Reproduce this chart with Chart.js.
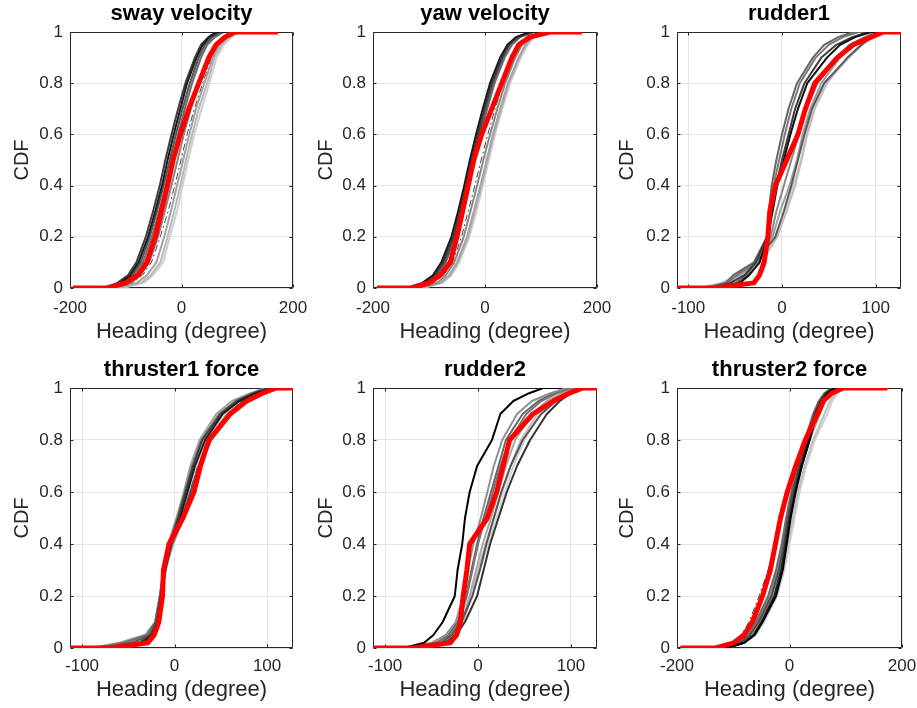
<!DOCTYPE html>
<html>
<head>
<meta charset="utf-8">
<script src="https://cdn.jsdelivr.net/npm/chart.js@4.4.1/dist/chart.umd.min.js"></script>
<style>
  html, body { margin: 0; padding: 0; background: #ffffff; }
  body { width: 917px; height: 708px; position: relative; overflow: hidden; }
  canvas { position: absolute; }
</style>
</head>
<body>
<canvas id="p1"></canvas>
<canvas id="p2"></canvas>
<canvas id="p3"></canvas>
<canvas id="p4"></canvas>
<canvas id="p5"></canvas>
<canvas id="p6"></canvas>
<script>
// ---------------- DATA ----------------
// CDF levels shared by every curve (x values below are headings in degrees at these levels)
const cdfLevels = [0, 0, 0.02, 0.05, 0.1, 0.2, 0.3, 0.4, 0.5, 0.6, 0.7, 0.8, 0.9, 0.95, 0.98, 1, 1];

const panelTitles = ['sway velocity', 'yaw velocity', 'rudder1', 'thruster1 force', 'rudder2', 'thruster2 force'];
const xLimits = [[-200, 200], [-200, 200], [-112, 127], [-113, 128], [-113, 128], [-200, 200]];
const xTicksWide = [-200, 0, 200];
const xTicksNarrow = [-100, 0, 100];
const xTickLabelsWide = ['-200', '0', '200'];
const xTickLabelsNarrow = ['-100', '0', '100'];
const yTicks = [0, 0.2, 0.4, 0.6, 0.8, 1];
const yTickLabels = ['0', '0.2', '0.4', '0.6', '0.8', '1'];
const xAxisLabel = 'Heading (degree)';
const yAxisLabel = 'CDF';

// red (aggregate) curves
const red1 = [-195,-134,-100,-78,-62,-47,-36,-25,-15,-2,13,31,49,62,78,95,173];
const red2 = [-193,-130,-100,-80,-62,-50,-40,-30,-20,-6,12,30,48,60,80,116,173];
const red3 = [-112,-72,-30,-24,-19,-15,-13,-7,5,17,25,35,59,76,95,108,127];
const red4 = [-113,-69,-29,-22,-17,-13,-12,-6,9,21,28,37,60,78,95,110,128];
const red5 = [-113,-70,-30,-23,-19,-16,-12,-9,10,20,27,34,59,81,98,113,128];
const red6 = [-194,-131,-99,-81,-66,-48,-34,-25,-16,-4,11,28,50,60,75,96,174];

// gray (individual run) curves
const gray1 = [
  [-175,-140,-110,-92,-77,-60,-47,-35,-25,-14,-2,10,27,38,50,65,95],
  [-170,-135,-115,-96,-81,-64,-51,-39,-29,-18,-6,7,24,35,48,62,90],
  [-165,-130,-105,-88,-73,-57,-44,-32,-21,-10,2,15,31,42,55,70,100],
  [-160,-128,-100,-84,-69,-53,-40,-28,-17,-6,6,19,35,46,60,76,105],
  [-150,-122,-90,-74,-58,-42,-30,-18,-7,4,17,32,48,60,74,92,115],
  [-140,-115,-80,-62,-45,-31,-19,-8,3,14,26,41,56,68,82,98,125],
  [-135,-110,-72,-55,-38,-25,-13,-2,8,19,31,46,59,72,86,102,130],
  [-130,-105,-68,-51,-33,-21,-8,2,12,23,36,50,63,76,90,105,135],
  [-150,-120,-88,-70,-54,-38,-24,-12,-1,10,23,38,54,66,80,95,120]
];
const gray2 = [
  [-170,-140,-112,-93,-78,-60,-48,-37,-27,-16,-4,9,27,40,55,80,100],
  [-165,-135,-108,-90,-75,-57,-45,-34,-24,-13,-1,12,30,42,57,82,105],
  [-160,-130,-105,-87,-72,-55,-43,-32,-22,-11,1,14,32,44,60,85,108],
  [-158,-128,-102,-84,-70,-53,-41,-30,-20,-9,4,17,35,48,63,88,110],
  [-150,-120,-85,-70,-55,-38,-26,-14,-3,9,22,36,54,66,80,98,120],
  [-145,-115,-80,-64,-50,-32,-20,-8,3,14,27,41,60,72,85,100,125],
  [-140,-112,-78,-62,-48,-30,-18,-6,5,16,29,43,62,74,86,102,128],
  [-138,-110,-76,-60,-46,-28,-15,-4,7,18,31,45,64,76,88,105,130],
  [-150,-118,-90,-74,-58,-42,-30,-18,-7,5,18,32,50,62,75,95,115]
];
const gray3 = [
  [-100,-70,-45,-35,-24,-15,-10,-5,2,9,17,27,48,62,78,95,115],
  [-105,-75,-55,-40,-28,-16,-11,-6,0,7,14,24,42,58,75,92,112],
  [-110,-80,-60,-52,-30,-16,-14,-11,-6,0,7,16,33,45,60,76,100],
  [-108,-78,-58,-48,-28,-14,-12,-9,-3,3,10,19,36,50,65,82,105],
  [-100,-70,-48,-38,-28,-7,2,10,17,24,32,45,70,85,95,104,118],
  [-110,-85,-62,-45,-25,-10,-2,8,16,22,30,42,62,78,92,103,120],
  [-108,-80,-55,-40,-22,-5,5,14,21,27,35,48,70,84,96,104,122],
  [-112,-90,-65,-48,-26,-8,3,12,20,26,33,46,72,86,97,106,125],
  [-104,-75,-50,-36,-24,-12,-6,2,10,18,26,38,58,72,88,100,118]
];
const gray4 = [
  [-100,-72,-35,-24,-18,-14,-10,-4,6,14,22,33,52,70,88,105,125],
  [-105,-75,-38,-25,-19,-15,-11,-5,4,12,20,30,50,68,86,102,122],
  [-108,-80,-45,-27,-20,-15,-11,-3,8,17,26,38,58,74,90,106,124],
  [-110,-85,-55,-30,-21,-16,-12,-6,3,11,19,29,48,66,84,100,120],
  [-100,-78,-50,-28,-19,-14,-10,-2,10,18,27,40,62,76,92,108,126],
  [-112,-90,-60,-32,-21,-16,-12,-7,2,10,17,27,45,62,82,98,118],
  [-105,-82,-52,-29,-20,-15,-11,-4,5,13,21,31,50,66,85,102,124],
  [-110,-88,-58,-31,-20,-15,-10,-1,8,15,23,34,55,70,88,104,126],
  [-100,-75,-40,-26,-19,-14,-9,-2,7,16,25,36,56,72,90,106,124]
];
const gray5 = [
  [-105,-80,-58,-48,-38,-25,-22,-17,-14,-9,-1,15,24,38,55,70,90],
  [-95,-65,-35,-24,-14,-1,6,13,22,31,42,56,74,88,100,110,125],
  [-100,-70,-40,-28,-18,-6,2,9,17,25,35,48,68,84,96,108,122],
  [-110,-80,-45,-30,-20,-12,-6,0,8,16,24,34,52,68,85,100,120],
  [-108,-78,-50,-35,-24,-16,-11,-5,3,10,17,26,42,58,78,95,115],
  [-100,-72,-38,-26,-17,-9,-2,5,14,22,30,40,58,74,90,104,120],
  [-98,-70,-34,-24,-16,-8,0,8,17,26,35,46,64,80,94,106,124],
  [-95,-68,-32,-22,-15,-7,2,11,20,29,38,50,66,82,95,107,125],
  [-104,-75,-45,-32,-22,-13,-7,-1,6,14,22,30,48,65,82,98,118]
];
const gray6 = [
  [-150,-110,-80,-62,-48,-24,-12,-5,2,11,22,36,48,58,68,80,110],
  [-155,-115,-82,-64,-50,-27,-15,-7,0,9,20,33,46,56,66,78,105],
  [-160,-120,-88,-70,-55,-32,-19,-10,-3,6,17,30,44,54,64,76,100],
  [-165,-125,-92,-74,-60,-38,-24,-14,-6,3,14,27,42,52,62,74,98],
  [-158,-122,-90,-72,-58,-35,-22,-12,-4,5,16,29,45,56,66,80,102],
  [-150,-115,-85,-66,-52,-30,-17,-8,1,10,22,36,54,64,74,86,110],
  [-145,-112,-82,-63,-48,-26,-12,-3,6,15,27,42,62,72,82,92,120],
  [-140,-110,-80,-60,-45,-22,-9,0,9,18,30,45,67,76,85,95,125],
  [-170,-130,-100,-86,-72,-54,-38,-26,-14,-2,12,26,46,58,70,84,115]
];
// per-panel gray curve colours (dark -> light), same order as the curves above
const grayColors1 = ['#1a1a1a','#3d3d3d','#555555','#6e6e6e','#888888','#a2a2a2','#b8b8b8','#cfcfcf','#4a4a4a'];
const grayColors2 = ['#1a1a1a','#3d3d3d','#555555','#6e6e6e','#888888','#a2a2a2','#b8b8b8','#cfcfcf','#4a4a4a'];
const grayColors3 = ['#111111','#3d3d3d','#666666','#7a7a7a','#5a5a5a','#a0a0a0','#bdbdbd','#d0d0d0','#8a8a8a'];
const grayColors4 = ['#1a1a1a','#3d3d3d','#555555','#6e6e6e','#888888','#a2a2a2','#b8b8b8','#cfcfcf','#4a4a4a'];
const grayColors5 = ['#000000','#333333','#555555','#777777','#909090','#a8a8a8','#c0c0c0','#d3d3d3','#666666'];
const grayColors6 = ['#000000','#262626','#4d4d4d','#6e6e6e','#8a8a8a','#a6a6a6','#bfbfbf','#d0d0d0','#3a3a3a'];
// index of the thin dash-dot curve in each panel
const dashedIndex = [8, 8, -1, 8, -1, 8];

// ---------------- LAYOUT (positions / sizes, kept apart from the data) ----------------
const geo = [
  {id:'p1', left:0,   top:0,   w:310, h:350, yW:70, padR:17, tTop:3, tBot:7, xH:62, xPad:10, yTitlePad:12},
  {id:'p2', left:305, top:0,   w:310, h:350, yW:68, padR:18, tTop:3, tBot:7, xH:62, xPad:10, yTitlePad:11},
  {id:'p3', left:610, top:0,   w:307, h:350, yW:67, padR:16, tTop:3, tBot:7, xH:62, xPad:10, yTitlePad:7},
  {id:'p4', left:0,   top:354, w:310, h:354, yW:70, padR:17, tTop:5, tBot:7, xH:60, xPad:8,  yTitlePad:12},
  {id:'p5', left:305, top:354, w:310, h:354, yW:68, padR:18, tTop:5, tBot:7, xH:60, xPad:8,  yTitlePad:11},
  {id:'p6', left:610, top:354, w:307, h:354, yW:67, padR:15, tTop:5, tBot:7, xH:60, xPad:8,  yTitlePad:7}
];

const FONT = "'Liberation Sans', Arial, Helvetica, sans-serif";
const TEXT = '#262626';
Chart.defaults.font.family = FONT;

const reds = [red1, red2, red3, red4, red5, red6];
const grays = [gray1, gray2, gray3, gray4, gray5, gray6];
const grayColors = [grayColors1, grayColors2, grayColors3, grayColors4, grayColors5, grayColors6];
const xTickSets = [xTicksWide, xTicksWide, xTicksNarrow, xTicksNarrow, xTicksNarrow, xTicksWide];
const xLabelSets = [xTickLabelsWide, xTickLabelsWide, xTickLabelsNarrow, xTickLabelsNarrow, xTickLabelsNarrow, xTickLabelsWide];

function toPoints(xs) { return xs.map((v, i) => ({x: v, y: cdfLevels[i]})); }

// box around the axes with small inward tick marks (MATLAB style)
const boxPlugin = {
  id: 'matlabBox',
  beforeDatasetsDraw(chart) {
    const {ctx, chartArea: a, scales: {x, y}} = chart;
    const L = Math.round(a.left) + 0.5, R = Math.round(a.right) - 0.5;
    const T = Math.round(a.top) + 0.5, B = Math.round(a.bottom) - 0.5;
    ctx.save();
    ctx.strokeStyle = TEXT;
    ctx.lineWidth = 1;
    ctx.beginPath();
    ctx.rect(L, T, R - L, B - T);
    x.ticks.forEach(t => {
      const px = Math.round(x.getPixelForValue(t.value)) + 0.5;
      ctx.moveTo(px, B); ctx.lineTo(px, B - 3);
      ctx.moveTo(px, T); ctx.lineTo(px, T + 3);
    });
    y.ticks.forEach(t => {
      const py = Math.round(y.getPixelForValue(t.value)) + 0.5;
      ctx.moveTo(L, py); ctx.lineTo(L + 3, py);
      ctx.moveTo(R, py); ctx.lineTo(R - 3, py);
    });
    ctx.stroke();
    ctx.restore();
  }
};

for (let p = 0; p < 6; p++) {
  const g = geo[p];
  const cv = document.getElementById(g.id);
  cv.width = g.w; cv.height = g.h;
  cv.style.left = g.left + 'px'; cv.style.top = g.top + 'px';
  cv.style.width = g.w + 'px'; cv.style.height = g.h + 'px';

  const datasets = [];
  datasets.push({
    data: toPoints(reds[p]), borderColor: '#ff0000', borderWidth: 5,
    pointRadius: 0, tension: 0, order: 0, borderJoinStyle: 'round', borderCapStyle: 'butt'
  });
  grays[p].forEach((xs, i) => {
    const dashed = i === dashedIndex[p];
    datasets.push({
      data: toPoints(xs), borderColor: grayColors[p][i],
      borderWidth: dashed ? 1 : 2, borderDash: dashed ? [7, 3, 2, 3] : [],
      pointRadius: 0, tension: 0, order: 1 + i, borderJoinStyle: 'round'
    });
  });

  const xt = xTickSets[p], xl = xLabelSets[p];
  new Chart(cv, {
    type: 'line',
    data: { datasets },
    plugins: [boxPlugin],
    options: {
      responsive: false,
      animation: false,
      events: [],
      parsing: true,
      layout: { padding: { left: 0, right: g.padR, top: 0, bottom: 0 } },
      plugins: {
        legend: { display: false },
        tooltip: { enabled: false },
        title: {
          display: true, text: panelTitles[p], color: '#000000', fullSize: false,
          font: { family: FONT, size: 22, weight: 'bold', lineHeight: 1 },
          padding: { top: g.tTop, bottom: g.tBot }
        }
      },
      scales: {
        x: {
          type: 'linear', min: xLimits[p][0], max: xLimits[p][1],
          afterBuildTicks: s => { s.ticks = xt.map(v => ({ value: v })); },
          afterFit: s => { s.height = g.xH; s.paddingLeft = 0; s.paddingRight = 0; },
          grid: { color: '#e4e4e4', lineWidth: 1, drawTicks: false },
          border: { display: false },
          ticks: {
            color: TEXT, font: { family: FONT, size: 17, lineHeight: 1.2 }, padding: g.xPad,
            maxRotation: 0, autoSkip: false, callback: (v, i) => xl[i]
          },
          title: {
            display: true, text: xAxisLabel, color: TEXT,
            font: { family: FONT, size: 22, lineHeight: 1 }, padding: { top: 0, bottom: 7 }
          }
        },
        y: {
          type: 'linear', min: 0, max: 1,
          afterBuildTicks: s => { s.ticks = yTicks.map(v => ({ value: v })); },
          afterFit: s => { s.width = g.yW; s.paddingTop = 0; s.paddingBottom = 0; },
          grid: { color: '#e4e4e4', lineWidth: 1, drawTicks: false },
          border: { display: false },
          ticks: {
            color: TEXT, font: { family: FONT, size: 17, lineHeight: 1.2 }, padding: 7,
            autoSkip: false, callback: (v, i) => yTickLabels[i]
          },
          title: {
            display: true, text: yAxisLabel, color: TEXT,
            font: { family: FONT, size: 20, lineHeight: 1 }, padding: { top: g.yTitlePad, bottom: 0 }
          }
        }
      }
    }
  });
}
</script>
</body>
</html>
